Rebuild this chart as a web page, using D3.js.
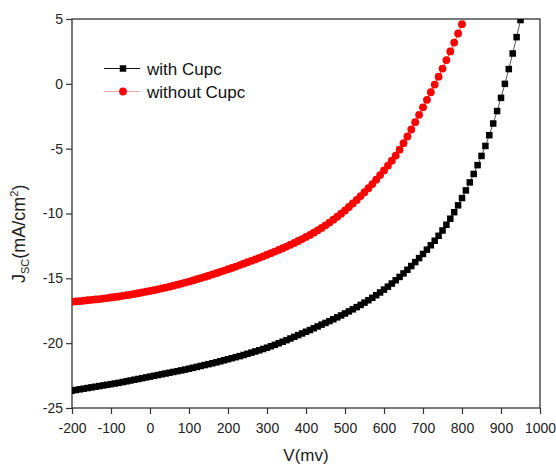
<!DOCTYPE html>
<html>
<head>
<meta charset="utf-8">
<script src="https://cdn.jsdelivr.net/npm/d3@7"></script>
<style>
  html, body { margin: 0; padding: 0; background: #fff; }
  #graph { width: 556px; height: 468px; }
  .tick-label { font-family: "Liberation Sans", Arial, sans-serif; font-size: 14px; fill: #222; }
  .axis-label { font-family: "Liberation Sans", Arial, sans-serif; fill: #222; }
  .legend-text { font-family: "Liberation Sans", Arial, sans-serif; font-size: 17px; fill: #111; }
</style>
</head>
<body>
<div id="graph"></div>
<script>
// Applied voltage (mV), one reading every 10 mV
const voltage = [
  -200, -190, -180, -170, -160, -150, -140, -130, -120, -110,
  -100, -90, -80, -70, -60, -50, -40, -30, -20, -10,
  0, 10, 20, 30, 40, 50, 60, 70, 80, 90,
  100, 110, 120, 130, 140, 150, 160, 170, 180, 190,
  200, 210, 220, 230, 240, 250, 260, 270, 280, 290,
  300, 310, 320, 330, 340, 350, 360, 370, 380, 390,
  400, 410, 420, 430, 440, 450, 460, 470, 480, 490,
  500, 510, 520, 530, 540, 550, 560, 570, 580, 590,
  600, 610, 620, 630, 640, 650, 660, 670, 680, 690,
  700, 710, 720, 730, 740, 750, 760, 770, 780, 790,
  800, 810, 820, 830, 840, 850, 860, 870, 880, 890,
  900, 910, 920, 930, 940, 950
]

// Current density (mA/cm2) of the cell with the CuPc layer
const withCupc = [
  -23.66, -23.61, -23.56, -23.51, -23.46, -23.41, -23.36, -23.31, -23.26, -23.21,
  -23.16, -23.11, -23.06, -23.00, -22.94, -22.88, -22.82, -22.76, -22.70, -22.64,
  -22.58, -22.52, -22.46, -22.40, -22.34, -22.28, -22.22, -22.16, -22.10, -22.04,
  -21.97, -21.90, -21.83, -21.76, -21.69, -21.62, -21.55, -21.48, -21.40, -21.32,
  -21.24, -21.16, -21.08, -21.00, -20.91, -20.82, -20.73, -20.64, -20.55, -20.45,
  -20.35, -20.24, -20.13, -20.01, -19.89, -19.77, -19.64, -19.51, -19.38, -19.25,
  -19.12, -18.99, -18.85, -18.71, -18.57, -18.44, -18.30, -18.16, -18.01, -17.86,
  -17.71, -17.55, -17.39, -17.22, -17.05, -16.87, -16.69, -16.50, -16.30, -16.09,
  -15.87, -15.64, -15.40, -15.15, -14.89, -14.62, -14.34, -14.05, -13.75, -13.44,
  -13.12, -12.79, -12.45, -12.10, -11.72, -11.31, -10.87, -10.40, -9.90, -9.37,
  -8.81, -8.22, -7.60, -6.95, -6.27, -5.56, -4.79, -3.96, -3.06, -2.10,
  -1.08, 0.00, 1.14, 2.34, 3.60, 4.92
]

// Current density (mA/cm2) of the cell without CuPc (readings stop at 800 mV)
const withoutCupc = [
  -16.80, -16.78, -16.75, -16.72, -16.69, -16.66, -16.63, -16.60, -16.56, -16.52,
  -16.48, -16.44, -16.40, -16.35, -16.30, -16.25, -16.20, -16.15, -16.09, -16.03,
  -15.97, -15.91, -15.85, -15.78, -15.71, -15.64, -15.57, -15.49, -15.41, -15.33,
  -15.25, -15.16, -15.07, -14.98, -14.89, -14.80, -14.70, -14.60, -14.50, -14.40,
  -14.30, -14.20, -14.09, -13.98, -13.87, -13.76, -13.65, -13.54, -13.42, -13.30,
  -13.18, -13.06, -12.94, -12.81, -12.68, -12.55, -12.41, -12.27, -12.12, -11.97,
  -11.81, -11.65, -11.48, -11.30, -11.11, -10.91, -10.70, -10.48, -10.25, -10.01,
  -9.76, -9.50, -9.23, -8.95, -8.66, -8.36, -8.05, -7.73, -7.39, -7.04,
  -6.68, -6.31, -5.93, -5.53, -5.08, -4.58, -4.06, -3.52, -2.96, -2.39,
  -1.81, -1.23, -0.65, -0.06, 0.55, 1.18, 1.83, 2.50, 3.18, 3.88,
  4.60
]

// Axis ticks
const xTicks = [-200, -100, 0, 100, 200, 300, 400, 500, 600, 700, 800, 900, 1000]
const yTicks = [-25, -20, -15, -10, -5, 0, 5]

const seriesNames = ['with Cupc', 'without Cupc']

// Chart box
const width = 556
const height = 468
const margin = { top: 19, right: 16, bottom: 60, left: 72 }

const svg = d3.select('#graph')
              .append('svg')
              .attr('width', width)
              .attr('height', height)

// Scales
const xScale = d3.scaleLinear()
                 .domain([-200, 1000])
                 .range([margin.left, width - margin.right])
const yScale = d3.scaleLinear()
                 .domain([-25, 5])
                 .range([height - margin.bottom, margin.top])

// Build point lists from the arrays
const blackData = withCupc.map((j, i) => [voltage[i], j])
const redData = withoutCupc.map((j, i) => [voltage[i], j])

// Clip marks to the plot box
svg.append('clipPath')
   .attr('id', 'plot-clip')
   .append('rect')
   .attr('x', margin.left)
   .attr('y', margin.top)
   .attr('width', xScale(1000) - margin.left)
   .attr('height', yScale(-25) - margin.top)

// Axes (plain hyphen for negative numbers, like the original)
const plain = d => String(d)
const xAxis = d3.axisBottom(xScale).tickValues(xTicks).tickSize(6).tickPadding(9).tickFormat(plain)
const yAxis = d3.axisLeft(yScale).tickValues(yTicks).tickSize(6).tickPadding(3).tickFormat(plain)

const gx = svg.append('g')
   .attr('transform', `translate(0,${yScale(-25)})`)
   .call(xAxis)
gx.select('.domain').remove()
gx.selectAll('line').attr('stroke', '#333').attr('stroke-width', 1.2)
gx.selectAll('text').attr('class', 'tick-label').attr('fill', null)

const gy = svg.append('g')
   .attr('transform', `translate(${margin.left},0)`)
   .call(yAxis)
gy.select('.domain').remove()
gy.selectAll('line').attr('stroke', '#333').attr('stroke-width', 1.2)
gy.selectAll('text').attr('class', 'tick-label').attr('fill', null)

// Frame around the plot
svg.append('rect')
   .attr('x', margin.left)
   .attr('y', margin.top)
   .attr('width', xScale(1000) - margin.left)
   .attr('height', yScale(-25) - margin.top)
   .attr('fill', 'none')
   .attr('stroke', '#333')
   .attr('stroke-width', 1.3)

const line = d3.line().x(d => xScale(d[0])).y(d => yScale(d[1]))

const plot = svg.append('g').attr('clip-path', 'url(#plot-clip)')

// Connecting lines
plot.append('path')
    .datum(blackData)
    .attr('d', line)
    .attr('fill', 'none')
    .attr('stroke', '#555')
    .attr('stroke-width', 1)
plot.append('path')
    .datum(redData)
    .attr('d', line)
    .attr('fill', 'none')
    .attr('stroke', '#f33')
    .attr('stroke-width', 1)

// Square markers (with Cupc)
const sq = 6.5
plot.selectAll('rect.sq')
    .data(blackData)
    .enter()
    .append('rect')
    .attr('class', 'sq')
    .attr('x', d => xScale(d[0]) - sq / 2)
    .attr('y', d => yScale(d[1]) - sq / 2)
    .attr('width', sq)
    .attr('height', sq)
    .attr('fill', '#000')

// Circle markers (without Cupc)
plot.selectAll('circle.dot')
    .data(redData)
    .enter()
    .append('circle')
    .attr('class', 'dot')
    .attr('cx', d => xScale(d[0]))
    .attr('cy', d => yScale(d[1]))
    .attr('r', 3.9)
    .attr('fill', '#f00')

// Legend
const legend = svg.append('g')
legend.append('line').attr('x1', 104).attr('x2', 140).attr('y1', 68.5).attr('y2', 68.5)
      .attr('stroke', '#111').attr('stroke-width', 1)
legend.append('rect').attr('x', 123 - sq / 2).attr('y', 68.5 - sq / 2)
      .attr('width', sq).attr('height', sq).attr('fill', '#000')
legend.append('line').attr('x1', 104).attr('x2', 140).attr('y1', 91.5).attr('y2', 91.5)
      .attr('stroke', '#f6a6a6').attr('stroke-width', 1)
legend.append('circle').attr('cx', 123).attr('cy', 91.5).attr('r', 3.9).attr('fill', '#f00')
legend.append('text').attr('class', 'legend-text').attr('x', 147).attr('y', 74.5).text(seriesNames[0])
legend.append('text').attr('class', 'legend-text').attr('x', 147).attr('y', 97.5).text(seriesNames[1])

// X axis title
svg.append('text')
   .attr('class', 'axis-label')
   .attr('text-anchor', 'middle')
   .attr('font-size', 17)
   .attr('x', (margin.left + xScale(1000)) / 2)
   .attr('y', 461)
   .text('V(mv)')

// Y axis title, J_SC (mA/cm^2)
const yTitle = svg.append('text')
   .attr('class', 'axis-label')
   .attr('font-size', 18)
   .attr('transform', 'translate(25,283) rotate(-90)')
yTitle.append('tspan').text('J')
yTitle.append('tspan').attr('font-size', 11).attr('dy', 4).text('SC')
yTitle.append('tspan').attr('dy', -4).text('(mA/cm')
yTitle.append('tspan').attr('font-size', 11).attr('dy', -7).text('2')
yTitle.append('tspan').attr('dy', 7).text(')')
</script>
</body>
</html>
